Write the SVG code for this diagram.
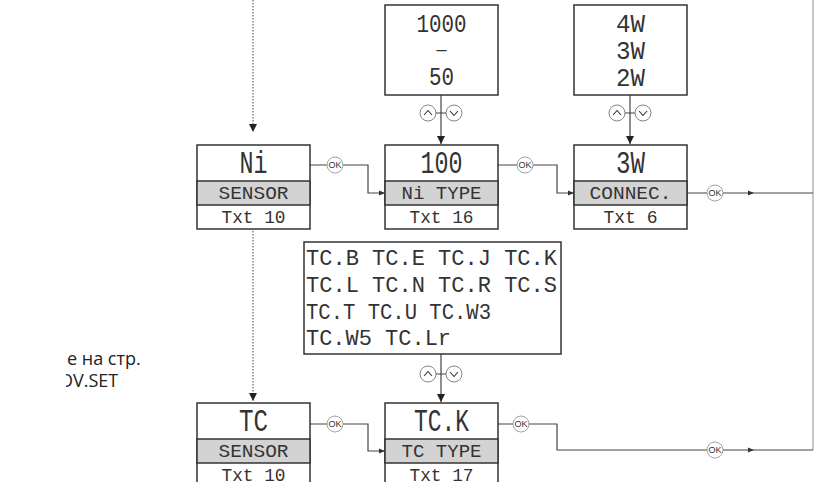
<svg xmlns="http://www.w3.org/2000/svg" width="814" height="482" viewBox="0 0 814 482">
<defs>
<style>
.box{fill:#fff;stroke:#333;stroke-width:1.5}
.gray{fill:#d3d3d3;stroke:#333;stroke-width:1.5}
.big{font-family:"Liberation Mono",monospace;font-size:31px;fill:#333;text-anchor:middle}
.mid{font-family:"Liberation Mono",monospace;font-size:18px;fill:#333;text-anchor:middle}
.top{font-family:"Liberation Mono",monospace;font-size:25px;fill:#333;text-anchor:middle}
.dash{font-family:"Liberation Mono",monospace;font-size:16px;fill:#333;text-anchor:middle}
.list{font-family:"Liberation Mono",monospace;font-size:22px;fill:#333}
.ln{fill:none;stroke:#444;stroke-width:1.2}
.edge{fill:none;stroke:#b5b5b5;stroke-width:1.5}
.dot{fill:none;stroke:#444;stroke-width:1;stroke-dasharray:1.5 1.5}
.okc{fill:#fff;stroke:#999;stroke-width:0.9}
.okt{font-family:"Liberation Sans",sans-serif;font-size:9px;fill:#333;text-anchor:middle}
.btn{fill:#fff;stroke:#777;stroke-width:0.9}
.chev{fill:none;stroke:#333;stroke-width:1.1}
.note{font-family:"Open Sans",sans-serif;font-size:18px;fill:#222}
.tri{fill:#333}
</style>
<marker id="as" markerWidth="6" markerHeight="6" refX="6" refY="3" orient="auto" markerUnits="userSpaceOnUse"><path d="M0,0.5 L6,3 L0,5.5 z" fill="#333"/></marker>
<marker id="av" markerWidth="8" markerHeight="10" refX="8" refY="4" orient="auto" markerUnits="userSpaceOnUse"><path d="M0,0 L8,4 L0,8 z" fill="#222"/></marker>
<clipPath id="noteclip"><rect x="66" y="340" width="200" height="60"/></clipPath>
</defs>

<g id="note" clip-path="url(#noteclip)">
<text class="note" x="67" y="365">е на стр.</text>
<text class="note" x="59" y="387">OV.SET</text>
</g>

<g id="connectors">
<path class="edge" d="M813,0 V450"/>
<path class="dot" d="M253,0 V132" marker-end="url(#av)"/>
<path class="dot" d="M253,222 V401" marker-end="url(#av)"/>
<path class="ln" d="M441,95 V144" marker-end="url(#av)"/>
<path class="ln" d="M630,95 V144" marker-end="url(#av)"/>
<path class="ln" d="M441,354 V402" marker-end="url(#av)"/>
<path class="ln" d="M436,113 H446 M625,113 H635 M436,374 H446"/>
<path class="ln" d="M310,165 H368 V193 H385" marker-end="url(#as)"/>
<path class="ln" d="M498,165 H557 V193 H574" marker-end="url(#as)"/>
<path class="ln" d="M687,193 H813"/>
<path class="ln" d="M310,424 H368 V451 H385" marker-end="url(#as)"/>
<path class="ln" d="M498,424 H557 V450 H813"/>
<path class="tri" d="M748,190.5 L754,193 L748,195.5 z"/>
<path class="tri" d="M748,447.5 L754,450 L748,452.5 z"/>
<g id="ok-buttons">
<circle class="okc" cx="335" cy="165" r="8"/><text class="okt" x="335" y="168.3">OK</text>
<circle class="okc" cx="525" cy="165" r="8"/><text class="okt" x="525" y="168.3">OK</text>
<circle class="okc" cx="715" cy="193" r="8"/><text class="okt" x="715" y="196.3">OK</text>
<circle class="okc" cx="335" cy="424" r="8"/><text class="okt" x="335" y="427.3">OK</text>
<circle class="okc" cx="521" cy="424" r="8"/><text class="okt" x="521" y="427.3">OK</text>
<circle class="okc" cx="715" cy="450" r="8"/><text class="okt" x="715" y="453.3">OK</text>
</g>
<g id="updown-buttons">
<circle class="btn" cx="428" cy="113" r="8"/><path class="chev" d="M424,115 L428,110.5 L432,115"/>
<circle class="btn" cx="454" cy="113" r="8"/><path class="chev" d="M450,111 L454,115.5 L458,111"/>
<circle class="btn" cx="617" cy="113" r="8"/><path class="chev" d="M613,115 L617,110.5 L621,115"/>
<circle class="btn" cx="643" cy="113" r="8"/><path class="chev" d="M639,111 L643,115.5 L647,111"/>
<circle class="btn" cx="428" cy="374" r="8"/><path class="chev" d="M424,376 L428,371.5 L432,376"/>
<circle class="btn" cx="454" cy="374" r="8"/><path class="chev" d="M450,372 L454,376.5 L458,372"/>
</g>
</g>

<g id="range-1000-50">
<rect class="box" x="385" y="5" width="113" height="90"/>
<text class="top" x="441.5" y="32" textLength="50" lengthAdjust="spacingAndGlyphs">1000</text>
<text class="dash" x="441.5" y="55" textLength="14" lengthAdjust="spacingAndGlyphs">–</text>
<text class="top" x="441.5" y="85" textLength="25" lengthAdjust="spacingAndGlyphs">50</text>
</g>

<g id="options-wires">
<rect class="box" x="574" y="5" width="113" height="90"/>
<text class="top" x="630.5" y="32" textLength="29" lengthAdjust="spacingAndGlyphs">4W</text>
<text class="top" x="630.5" y="59" textLength="29" lengthAdjust="spacingAndGlyphs">3W</text>
<text class="top" x="630.5" y="86" textLength="29" lengthAdjust="spacingAndGlyphs">2W</text>
</g>

<g id="options-tc">
<rect class="box" x="304" y="242" width="257" height="112"/>
<text class="list" x="306" y="265" textLength="251" lengthAdjust="spacingAndGlyphs">TC.B TC.E TC.J TC.K</text>
<text class="list" x="306" y="292" textLength="251" lengthAdjust="spacingAndGlyphs">TC.L TC.N TC.R TC.S</text>
<text class="list" x="306" y="319" textLength="185" lengthAdjust="spacingAndGlyphs">TC.T TC.U TC.W3</text>
<text class="list" x="306" y="345" textLength="145" lengthAdjust="spacingAndGlyphs">TC.W5 TC.Lr</text>
</g>

<g id="node-ni-sensor">
<rect class="box" x="197" y="145" width="113" height="84"/>
<rect class="gray" x="197" y="181" width="113" height="24"/>
<text class="big" x="253.5" y="173" textLength="28" lengthAdjust="spacingAndGlyphs">Ni</text>
<text class="mid" x="253.5" y="199" textLength="70" lengthAdjust="spacingAndGlyphs">SENSOR</text>
<text class="mid" x="253.5" y="223" textLength="64" lengthAdjust="spacingAndGlyphs">Txt 10</text>
</g>

<g id="node-ni-type">
<rect class="box" x="385" y="145" width="113" height="84"/>
<rect class="gray" x="385" y="181" width="113" height="24"/>
<text class="big" x="441.5" y="173" textLength="42" lengthAdjust="spacingAndGlyphs">100</text>
<text class="mid" x="441.5" y="199" textLength="80" lengthAdjust="spacingAndGlyphs">Ni TYPE</text>
<text class="mid" x="441.5" y="223" textLength="64" lengthAdjust="spacingAndGlyphs">Txt 16</text>
</g>

<g id="node-connec">
<rect class="box" x="574" y="145" width="113" height="84"/>
<rect class="gray" x="574" y="181" width="113" height="24"/>
<text class="big" x="630.5" y="173" textLength="29" lengthAdjust="spacingAndGlyphs">3W</text>
<text class="mid" x="630.5" y="199" textLength="82" lengthAdjust="spacingAndGlyphs">CONNEC.</text>
<text class="mid" x="630.5" y="223" textLength="54" lengthAdjust="spacingAndGlyphs">Txt 6</text>
</g>

<g id="node-tc-sensor">
<rect class="box" x="197" y="403" width="113" height="84"/>
<rect class="gray" x="197" y="439" width="113" height="24"/>
<text class="big" x="253.5" y="431" textLength="29" lengthAdjust="spacingAndGlyphs">TC</text>
<text class="mid" x="253.5" y="457" textLength="70" lengthAdjust="spacingAndGlyphs">SENSOR</text>
<text class="mid" x="253.5" y="481" textLength="64" lengthAdjust="spacingAndGlyphs">Txt 10</text>
</g>

<g id="node-tc-type">
<rect class="box" x="385" y="403" width="113" height="84"/>
<rect class="gray" x="385" y="439" width="113" height="24"/>
<text class="big" x="441.5" y="431" textLength="55" lengthAdjust="spacingAndGlyphs">TC.K</text>
<text class="mid" x="441.5" y="457" textLength="80" lengthAdjust="spacingAndGlyphs">TC TYPE</text>
<text class="mid" x="441.5" y="481" textLength="64" lengthAdjust="spacingAndGlyphs">Txt 17</text>
</g>
</svg>
